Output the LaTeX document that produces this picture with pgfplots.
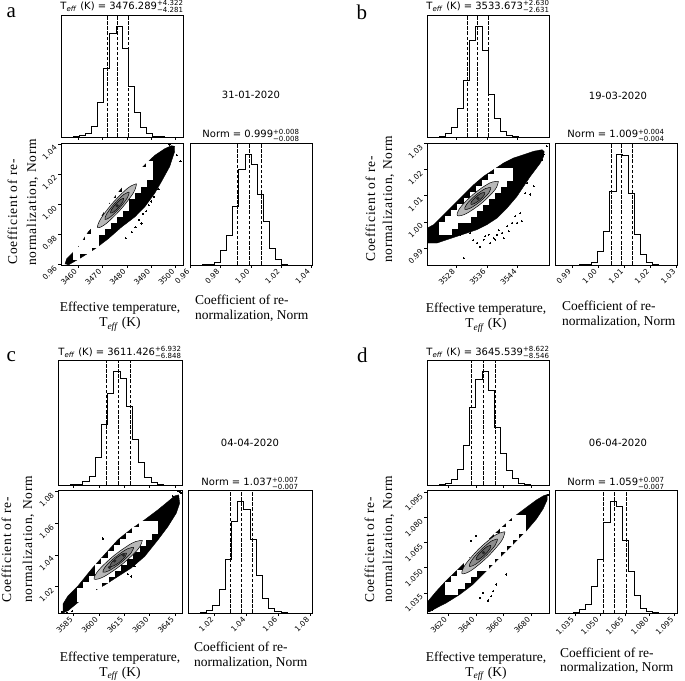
\documentclass[border=0pt]{standalone}
\usepackage{fontspec}
\setmainfont{Liberation Serif}
\newfontfamily\dejavu{DejaVu Sans}
\usepackage{amsmath}
\usepackage{pgfplots}
\pgfplotsset{compat=1.18}
\definecolor{cgA}{gray}{0.72}
\definecolor{cgB}{gray}{0.55}
\definecolor{cgC}{gray}{0.38}
\definecolor{cgD}{gray}{0.15}
\newcommand\tickfont{\dejavu\fontsize{7.5}{9}\selectfont}
\newcommand\ttl{\dejavu\fontsize{10}{12}\selectfont}
\newcommand\lbl{\fontsize{13.5}{16}\selectfont}
\newcommand\ylbl{\fontsize{13.5}{16}\selectfont\addfontfeature{LetterSpace=6}}
\newcommand\letterf{\fontsize{21}{24}\selectfont}
\newcommand\Teff{T\textsubscript{\textit{eff}}}
\pgfplotsset{
  every axis/.append style={scale only axis, anchor=south west,
    axis line style={line width=0.55pt}, tick style={line width=0.55pt, black},
    tick align=outside, major tick length=3pt, xtick pos=left, ytick pos=left,
    tick label style={font=\tickfont}, /pgf/number format/assume math mode=true,
    axis on top, clip mode=individual},
  cornhist/.style={ymin=0, ymax=1.1, ytick=\empty},
  rotx/.style={xticklabel style={rotate=45, anchor=east}},
  roty/.style={yticklabel style={rotate=45, anchor=east}},
  hstep/.style={const plot, black, line width=0.7pt},
  qline/.style={black, line width=0.8pt, dash pattern=on 3.5pt off 1.6pt},
  cloudst/.style={fill=black, draw=black, line width=0.4pt},
  outl/.style={only marks, mark=*, mark size=0.6pt, mark options={fill=black, draw=black, line width=0pt}},
  wbin/.style={only marks, mark=square*, mark size=3.05pt, mark options={fill=white, draw=white, line width=0.2pt}},
  ctr/.style={smooth, tension=0.55, draw=black, line width=0.5pt},
  core/.style={only marks, mark=*, mark size=1.5pt, mark options={fill=cgD, draw=cgD}},
}
\begin{document}
\begin{tikzpicture}
\useasboundingbox (0,0) rectangle (685pt,680pt);
% ================= PANEL a =================
\begin{axis}[cornhist, at={(61pt,543pt)}, width=122pt, height=122pt, xmin=3453, xmax=3503,
  xtick={3460,3470,3480,3490,3500}, xticklabels={}]
\addplot[hstep] coordinates {(3453,0) (3455.5,0) (3458,0.003) (3460.5,0.012) (3463,0.03) (3465.5,0.10) (3468,0.31) (3470.5,0.62) (3473,0.93) (3475.5,1.0) (3478,0.80) (3480.5,0.46) (3483,0.22) (3485.5,0.09) (3488,0.03) (3490.5,0.008) (3493,0.002) (3495.5,0) (3498,0) (3500.5,0) (3503,0)};
\addplot[qline] coordinates {(3472.008,0) (3472.008,1.1)};
\addplot[qline] coordinates {(3476.289,0) (3476.289,1.1)};
\addplot[qline] coordinates {(3480.611,0) (3480.611,1.1)};
\end{axis}
\begin{axis}[rotx, roty, at={(61pt,415pt)}, width=122pt, height=122pt, xmin=3453, xmax=3503, ymin=0.9596, ymax=1.0407,
  xtick={3460,3470,3480,3490,3500}, xticklabels={3460,3470,3480,3490,3500},
  ytick={0.96,0.98,1.00,1.02,1.04}, yticklabels={0.96,0.98,1.00,1.02,1.04}]
\addplot[cloudst] coordinates {(3454.65,0.96025) (3455.3,0.96366) (3460.1,0.97144) (3464.15,0.9815) (3468.25,0.98823) (3472.35,0.99934) (3477.8,1.01053) (3483.25,1.01945) (3487.35,1.02618) (3491.4,1.03243) (3495.5,1.03689) (3498.25,1.03891) (3499.6,1.03843) (3499.6,1.0351) (3497.55,1.02505) (3494.15,1.01499) (3491.4,1.00721) (3487.35,0.99828) (3483.25,0.99155) (3477.8,0.98482) (3472.35,0.97704) (3466.9,0.97031) (3461.45,0.96471) (3456.0,0.9596)};
\addplot[outl] coordinates {(3502.0,1.0285) (3497.5,1.0395) (3491.0,1.0050) (3490.0,1.0018) (3488.0,0.9953) (3486.5,0.9937) (3486.0,0.9872) (3483.5,0.9847) (3479.5,0.9774) (3489.0,0.9993) (3485.0,0.9896) (3482.0,0.9815) (3500.5,1.0326) (3493.0,1.0099)};
\addplot[wbin] coordinates {(3459.25,0.965685) (3459.25,0.96974) (3461.75,0.96974) (3461.75,0.9738) (3464.25,0.96974) (3464.25,0.9738) (3464.25,0.97785) (3466.75,0.9738) (3466.75,0.97785) (3466.75,0.98191) (3466.75,0.98596) (3469.25,0.98191) (3469.25,0.98596) (3469.25,0.99002) (3471.75,0.98596) (3471.75,0.99002) (3471.75,0.99407) (3471.75,0.99813) (3474.25,0.99002) (3474.25,0.99407) (3474.25,0.99813) (3474.25,1.00218) (3476.75,0.99407) (3476.75,0.99813) (3476.75,1.00218) (3476.75,1.00624) (3479.25,0.99813) (3479.25,1.00218) (3479.25,1.00624) (3479.25,1.01029) (3479.25,1.01435) (3481.75,1.00624) (3481.75,1.01029) (3481.75,1.01435) (3481.75,1.0184) (3484.25,1.01029) (3484.25,1.01435) (3484.25,1.0184) (3484.25,1.02246) (3486.75,1.01435) (3486.75,1.0184) (3486.75,1.02246) (3489.25,1.0184) (3489.25,1.02246) (3489.25,1.02651)};
\end{axis}
\begin{axis}[hide axis, at={(61pt,415pt)}, width=122pt, height=122pt, xmin=3453, xmax=3503, ymin=0.9596, ymax=1.0407]
\addplot[ctr, fill=cgA] coordinates {(3483.95,1.01358) (3480.51,1.0109) (3474.43,1.00126) (3469.27,0.99029) (3468.05,0.98442) (3471.49,0.9871) (3477.57,0.99674) (3482.73,1.00771) (3483.95,1.01358)};
\addplot[ctr, fill=cgB] coordinates {(3480.97,1.00811) (3478.77,1.00651) (3474.95,1.00051) (3471.74,0.99362) (3471.03,0.98989) (3473.23,0.99149) (3477.05,0.9975) (3480.26,1.00438) (3480.97,1.00811)};
\addplot[ctr, fill=cgC] coordinates {(3478.65,1.00386) (3477.40,1.00312) (3475.33,0.99997) (3473.65,0.99625) (3473.35,0.99414) (3474.60,0.99488) (3476.67,0.99803) (3478.35,1.00175) (3478.65,1.00386)};
\addplot[core] coordinates {(3476.0,0.999)};
\end{axis}
\begin{axis}[cornhist, rotx, at={(190pt,415pt)}, width=122pt, height=122pt, xmin=0.9596, xmax=1.0407,
  xtick={0.96,0.98,1.00,1.02,1.04}, xticklabels={0.96,0.98,1.00,1.02,1.04}]
\addplot[hstep] coordinates {(0.9596,0) (0.963655,0) (0.96771,0.003) (0.971765,0.01) (0.97582,0.02) (0.979875,0.13) (0.98393,0.27) (0.987985,0.53) (0.99204,0.86) (0.996095,1.0) (1.00015,0.91) (1.004205,0.64) (1.00826,0.39) (1.012315,0.15) (1.01637,0.055) (1.020425,0.01) (1.02448,0) (1.028535,0) (1.03259,0) (1.036645,0) (1.0407,0)};
\addplot[qline] coordinates {(0.991,0) (0.991,1.1)};
\addplot[qline] coordinates {(0.999,0) (0.999,1.1)};
\addplot[qline] coordinates {(1.007,0) (1.007,1.1)};
\end{axis}
% ================= PANEL b =================
\begin{axis}[cornhist, at={(427pt,543pt)}, width=122pt, height=122pt, xmin=3520.5, xmax=3552.1,
  xtick={3528,3536,3544}, xticklabels={}]
\addplot[hstep] coordinates {(3520.5,0) (3522.08,0) (3523.66,0.006) (3525.24,0.03) (3526.82,0.09) (3528.4,0.26) (3529.98,0.51) (3531.56,0.87) (3533.14,1.0) (3534.72,0.78) (3536.3,0.38) (3537.88,0.17) (3539.46,0.05) (3541.04,0.015) (3542.62,0.005) (3544.2,0) (3545.78,0) (3547.36,0) (3548.94,0) (3550.52,0) (3552.1,0)};
\addplot[qline] coordinates {(3531.042,0) (3531.042,1.1)};
\addplot[qline] coordinates {(3533.673,0) (3533.673,1.1)};
\addplot[qline] coordinates {(3536.303,0) (3536.303,1.1)};
\end{axis}
\begin{axis}[rotx, roty, at={(427pt,415pt)}, width=122pt, height=122pt, xmin=3520.5, xmax=3552.1, ymin=0.9835, ymax=1.0302,
  xtick={3528,3536,3544}, xticklabels={3528,3536,3544},
  ytick={0.99,1.00,1.01,1.02,1.03}, yticklabels={0.99,1.00,1.01,1.02,1.03}]
\addplot[cloudst] coordinates {(3519.5,0.99676) (3522.24,0.99896) (3524.83,1.00279) (3527.42,1.00662) (3530.01,1.01045) (3532.60,1.01423) (3535.16,1.01745) (3537.75,1.01997) (3540.34,1.02254) (3542.94,1.02446) (3545.53,1.02572) (3548.12,1.02702) (3550.30,1.02763) (3550.84,1.02693) (3550.71,1.02511) (3549.86,1.02254) (3547.27,1.01745) (3543.82,1.00979) (3541.23,1.00531) (3538.64,1.00148) (3536.05,0.99896) (3533.46,0.99704) (3530.86,0.99574) (3528.27,0.99447) (3525.68,0.99321) (3523.09,0.99191) (3519.5,0.99191)};
\addplot[outl] coordinates {(3533.46,0.99191) (3535.16,0.99321) (3536.46,0.99513) (3537.75,0.99382) (3539.06,0.99676) (3539.93,0.99574) (3541.23,0.9983) (3542.53,0.99957) (3543.38,1.00213) (3544.67,1.00339) (3545.97,1.01105) (3547.27,1.01045) (3548.12,1.01362) (3546.41,1.01488) (3549.0,1.02254) (3550.71,1.02572) (3550.3,1.0238) (3530.01,0.98616) (3531.72,0.99574) (3529.13,0.99513) (3538.2,0.99321) (3536.9,0.99191) (3541.64,0.99639) (3538.64,0.99513) (3535.6,0.99447) (3540.34,0.99382) (3543.82,0.99957) (3545.1,1.00022) (3551.5,1.0290) (3532.5,0.9930) (3534.3,0.9905)};
\addplot[wbin] coordinates {(3524.45,0.99641) (3524.45,0.99872) (3526.03,0.99641) (3526.03,0.99872) (3526.03,1.00103) (3527.61,0.99872) (3527.61,1.00103) (3527.61,1.00334) (3529.19,1.00103) (3529.19,1.00334) (3529.19,1.00565) (3530.77,1.00103) (3530.77,1.00334) (3530.77,1.00565) (3530.77,1.00796) (3532.35,1.00334) (3532.35,1.00565) (3532.35,1.00796) (3532.35,1.01027) (3533.93,1.00565) (3533.93,1.00796) (3533.93,1.01027) (3533.93,1.01258) (3535.51,1.00796) (3535.51,1.01027) (3535.51,1.01258) (3535.51,1.01489) (3537.09,1.01027) (3537.09,1.01258) (3537.09,1.01489) (3537.09,1.0172) (3538.67,1.01258) (3538.67,1.01489) (3538.67,1.0172) (3538.67,1.01951) (3540.25,1.01489) (3540.25,1.0172) (3540.25,1.01951) (3541.83,1.0172) (3541.83,1.01951)};
\end{axis}
\begin{axis}[hide axis, at={(427pt,415pt)}, width=122pt, height=122pt, xmin=3520.5, xmax=3552.1, ymin=0.9835, ymax=1.0302]
\addplot[ctr, fill=cgA] coordinates {(3538.995,1.01553) (3536.717,1.01487) (3532.654,1.01077) (3529.186,1.00563) (3528.345,1.00247) (3530.623,1.00313) (3534.686,1.00723) (3538.154,1.01237) (3538.995,1.01553)};
\addplot[ctr, fill=cgB] coordinates {(3537.06,1.01316) (3535.61,1.01274) (3533.02,1.01013) (3530.81,1.00686) (3530.28,1.00484) (3531.73,1.00526) (3534.32,1.00787) (3536.53,1.01114) (3537.06,1.01316)};
\addplot[ctr, fill=cgC] coordinates {(3535.49,1.01123) (3534.67,1.01108) (3533.26,1.00971) (3532.10,1.00793) (3531.85,1.00677) (3532.67,1.00693) (3534.08,1.00829) (3535.24,1.01007) (3535.49,1.01123)};
\addplot[core] coordinates {(3533.67,1.009)};
\end{axis}
\begin{axis}[cornhist, rotx, at={(555pt,415pt)}, width=122pt, height=122pt, xmin=0.9835, xmax=1.0302,
  xtick={0.99,1.00,1.01,1.02,1.03}, xticklabels={0.99,1.00,1.01,1.02,1.03}]
\addplot[hstep] coordinates {(0.9837,0) (0.98601,0) (0.98832,0) (0.99063,0) (0.99294,0.003) (0.99525,0.005) (0.99756,0.025) (0.99987,0.12) (1.00218,0.30) (1.00449,0.66) (1.0068,1.0) (1.00911,0.99) (1.01142,0.65) (1.01373,0.28) (1.01604,0.10) (1.01835,0.025) (1.02066,0.005) (1.02297,0) (1.02528,0) (1.02759,0) (1.0299,0)};
\addplot[qline] coordinates {(1.005,0) (1.005,1.1)};
\addplot[qline] coordinates {(1.009,0) (1.009,1.1)};
\addplot[qline] coordinates {(1.013,0) (1.013,1.1)};
\end{axis}
% ================= PANEL c =================
\begin{axis}[cornhist, at={(58pt,195pt)}, width=124pt, height=125pt, xmin=3575.7, xmax=3649.1,
  xtick={3585,3600,3615,3630,3645}, xticklabels={}]
\addplot[hstep] coordinates {(3575.7,0) (3579.37,0) (3583.04,0.002) (3586.71,0.008) (3590.38,0.03) (3594.05,0.08) (3597.72,0.24) (3601.39,0.53) (3605.06,0.81) (3608.73,1.0) (3612.4,0.94) (3616.07,0.69) (3619.74,0.40) (3623.41,0.20) (3627.08,0.07) (3630.75,0.02) (3634.42,0.006) (3638.09,0) (3641.76,0) (3645.43,0) (3649.1,0)};
\addplot[qline] coordinates {(3604.578,0) (3604.578,1.1)};
\addplot[qline] coordinates {(3611.426,0) (3611.426,1.1)};
\addplot[qline] coordinates {(3618.358,0) (3618.358,1.1)};
\end{axis}
\begin{axis}[rotx, roty, at={(58pt,67pt)}, width=124pt, height=123pt, xmin=3575.7, xmax=3649.1, ymin=1.0033, ymax=1.0811,
  xtick={3585,3600,3615,3630,3645}, xticklabels={3585,3600,3615,3630,3645},
  ytick={1.02,1.04,1.06,1.08}, yticklabels={1.02,1.04,1.06,1.08}]
\addplot[cloudst] coordinates {(3578.64,1.00898) (3581.65,1.01419) (3587.52,1.02042) (3595.44,1.03092) (3603.30,1.04033) (3611.23,1.04975) (3619.08,1.05644) (3627.01,1.06227) (3634.86,1.06857) (3640.81,1.07379) (3644.77,1.07737) (3647.12,1.07799) (3647.70,1.0727) (3645.72,1.06647) (3640.81,1.05807) (3634.86,1.04959) (3627.01,1.03909) (3619.08,1.03177) (3611.23,1.02641) (3603.30,1.02096) (3595.44,1.01637) (3587.52,1.00999) (3581.65,1.00478) (3578.64,1.0033)};
\addplot[outl] coordinates {(3643.6,1.0773) (3646.5,1.0742) (3602.3,1.0504) (3617.0,1.0279) (3619.0,1.0264) (3578.0,1.0040) (3581.0,1.0035) (3584.0,1.0045) (3648.0,1.0795) (3621.0,1.0330) (3605.0,1.0410) (3648.6,1.0790) (3647.0,1.0805)};
\addplot[wbin, mark size=3.1pt] coordinates {(3588.55,1.01303) (3588.55,1.01692) (3592.22,1.01303) (3592.22,1.01692) (3592.22,1.02081) (3595.89,1.01692) (3595.89,1.02081) (3595.89,1.0247) (3599.56,1.02081) (3599.56,1.0247) (3599.56,1.02859) (3599.56,1.03248) (3603.23,1.0247) (3603.23,1.02859) (3603.23,1.03248) (3603.23,1.03637) (3606.90,1.02859) (3606.90,1.03248) (3606.90,1.03637) (3606.90,1.04026) (3610.57,1.03248) (3610.57,1.03637) (3610.57,1.04026) (3610.57,1.04415) (3614.24,1.03637) (3614.24,1.04026) (3614.24,1.04415) (3614.24,1.04804) (3617.91,1.04026) (3617.91,1.04415) (3617.91,1.04804) (3617.91,1.05193) (3621.58,1.04415) (3621.58,1.04804) (3621.58,1.05193) (3621.58,1.05582) (3625.25,1.04804) (3625.25,1.05193) (3625.25,1.05582) (3625.25,1.05971) (3628.92,1.05193) (3628.92,1.05582) (3628.92,1.05971) (3632.59,1.05582) (3632.59,1.05971)};
\end{axis}
\begin{axis}[hide axis, at={(58pt,67pt)}, width=124pt, height=123pt, xmin=3575.7, xmax=3649.1, ymin=1.0033, ymax=1.0811]
\addplot[ctr, fill=cgA] coordinates {(3625.66,1.04924) (3619.92,1.04771) (3609.18,1.0399) (3599.75,1.0304) (3597.14,1.02476) (3602.88,1.02629) (3613.62,1.0341) (3623.05,1.0436) (3625.66,1.04924)};
\addplot[ctr, fill=cgB] coordinates {(3620.53,1.04483) (3616.81,1.04391) (3609.92,1.03894) (3603.90,1.03283) (3602.27,1.02917) (3605.99,1.03009) (3612.88,1.03507) (3618.90,1.04117) (3620.53,1.04483)};
\addplot[ctr, fill=cgC] coordinates {(3616.25,1.04116) (3614.11,1.04088) (3610.38,1.03833) (3607.25,1.035) (3606.55,1.03284) (3608.69,1.03312) (3612.42,1.03567) (3615.55,1.039) (3616.25,1.04116)};
\addplot[core] coordinates {(3609.2,1.0363) (3614.5,1.0399) (3606.2,1.0321)};
\end{axis}
\begin{axis}[cornhist, rotx, at={(188pt,67pt)}, width=124pt, height=123pt, xmin=1.0033, xmax=1.0811,
  xtick={1.02,1.04,1.06,1.08}, xticklabels={1.02,1.04,1.06,1.08}]
\addplot[hstep] coordinates {(1.0033,0) (1.00719,0) (1.01108,0.006) (1.01497,0.02) (1.01886,0.065) (1.02275,0.21) (1.02664,0.48) (1.03053,0.82) (1.03442,1.0) (1.03831,0.93) (1.0422,0.66) (1.04609,0.34) (1.04998,0.13) (1.05387,0.045) (1.05776,0.012) (1.06165,0.003) (1.06554,0) (1.06943,0) (1.07332,0) (1.07721,0) (1.0811,0)};
\addplot[qline] coordinates {(1.030,0) (1.030,1.1)};
\addplot[qline] coordinates {(1.037,0) (1.037,1.1)};
\addplot[qline] coordinates {(1.044,0) (1.044,1.1)};
\end{axis}
% ================= PANEL d =================
\begin{axis}[cornhist, at={(427pt,195pt)}, width=122pt, height=125pt, xmin=3604.9, xmax=3692.7,
  xtick={3620,3640,3660,3680}, xticklabels={}]
\addplot[hstep] coordinates {(3604.9,0) (3609.29,0) (3613.68,0.004) (3618.07,0.015) (3622.46,0.05) (3626.85,0.14) (3631.24,0.35) (3635.63,0.68) (3640.02,0.93) (3644.41,1.0) (3648.8,0.83) (3653.19,0.51) (3657.58,0.28) (3661.97,0.13) (3666.36,0.055) (3670.75,0.018) (3675.14,0.005) (3679.53,0) (3683.92,0) (3688.31,0) (3692.7,0)};
\addplot[qline] coordinates {(3636.993,0) (3636.993,1.1)};
\addplot[qline] coordinates {(3645.539,0) (3645.539,1.1)};
\addplot[qline] coordinates {(3654.161,0) (3654.161,1.1)};
\end{axis}
\begin{axis}[rotx, roty, at={(427pt,67pt)}, width=122pt, height=123pt, xmin=3604.9, xmax=3692.7, ymin=1.023, ymax=1.0964,
  xtick={3620,3640,3660,3680}, xticklabels={3620,3640,3660,3680},
  ytick={1.035,1.050,1.065,1.080,1.095}, yticklabels={1.035,1.050,1.065,1.080,1.095}]
\addplot[cloudst] coordinates {(3605.16,1.02601) (3605.60,1.02997) (3611.66,1.03599) (3618.77,1.04238) (3628.43,1.05001) (3638.00,1.05801) (3647.57,1.06557) (3657.23,1.07299) (3666.80,1.08003) (3676.37,1.08598) (3683.57,1.09038) (3688.84,1.09302) (3691.30,1.09361) (3691.30,1.09038) (3688.40,1.08502) (3683.57,1.079) (3676.37,1.07203) (3666.80,1.06403) (3657.23,1.05603) (3647.57,1.04803) (3638.00,1.04003) (3628.43,1.03401) (3618.77,1.02902) (3611.66,1.02601) (3606.30,1.02359)};
\addplot[outl] coordinates {(3642.83,1.03203) (3648.80,1.03041) (3652.40,1.03599) (3645.20,1.03497) (3654.77,1.04003) (3640.37,1.06902) (3636.77,1.06601) (3692.0,1.09361) (3661.97,1.04597) (3651.17,1.03298) (3606.0,1.0240) (3609.0,1.0250)};
\addplot[wbin] coordinates {(3620.27,1.03585) (3620.27,1.03952) (3624.66,1.03585) (3624.66,1.03952) (3624.66,1.04319) (3629.05,1.03952) (3629.05,1.04319) (3629.05,1.04686) (3633.44,1.04319) (3633.44,1.04686) (3633.44,1.05053) (3633.44,1.0542) (3637.83,1.04686) (3637.83,1.05053) (3637.83,1.0542) (3637.83,1.05787) (3642.22,1.05053) (3642.22,1.0542) (3642.22,1.05787) (3642.22,1.06154) (3646.61,1.05053) (3646.61,1.0542) (3646.61,1.05787) (3646.61,1.06154) (3646.61,1.06521) (3651.0,1.0542) (3651.0,1.05787) (3651.0,1.06154) (3651.0,1.06521) (3655.39,1.05787) (3655.39,1.06154) (3655.39,1.06521) (3655.39,1.06888) (3659.78,1.06154) (3659.78,1.06521) (3659.78,1.06888) (3659.78,1.07255) (3664.17,1.06521) (3664.17,1.06888) (3664.17,1.07255) (3664.17,1.07622) (3668.56,1.06888) (3668.56,1.07255) (3668.56,1.07622) (3668.56,1.07989) (3672.95,1.07255) (3672.95,1.07622) (3672.95,1.07989)};
\end{axis}
\begin{axis}[hide axis, at={(427pt,67pt)}, width=122pt, height=123pt, xmin=3604.9, xmax=3692.7, ymin=1.023, ymax=1.0964]
\addplot[ctr, fill=cgA] coordinates {(3661.01,1.07149) (3654.41,1.06963) (3642.61,1.06153) (3632.53,1.05196) (3630.07,1.04651) (3636.67,1.04837) (3648.47,1.05647) (3658.55,1.06604) (3661.01,1.07149)};
\addplot[ctr, fill=cgB] coordinates {(3655.65,1.06716) (3651.31,1.06596) (3643.59,1.06069) (3637.01,1.05443) (3635.44,1.05084) (3639.78,1.05204) (3647.49,1.05731) (3654.07,1.06357) (3655.65,1.06716)};
\addplot[ctr, fill=cgC] coordinates {(3650.91,1.06333) (3648.47,1.06281) (3644.32,1.06006) (3640.88,1.05668) (3640.17,1.05467) (3642.61,1.05519) (3646.76,1.05794) (3650.20,1.06132) (3650.91,1.06333)};
\addplot[core] coordinates {(3645.54,1.059)};
\end{axis}
\begin{axis}[cornhist, rotx, at={(555pt,67pt)}, width=122pt, height=123pt, xmin=1.023, xmax=1.0964,
  xtick={1.035,1.050,1.065,1.080,1.095}, xticklabels={1.035,1.050,1.065,1.080,1.095}]
\addplot[hstep] coordinates {(1.023,0) (1.02667,0) (1.03034,0) (1.03401,0.01) (1.03768,0.03) (1.04135,0.075) (1.04502,0.24) (1.04869,0.48) (1.05236,0.81) (1.05603,1.0) (1.0597,0.95) (1.06337,0.65) (1.06704,0.37) (1.07071,0.155) (1.07438,0.045) (1.07805,0.015) (1.08172,0.004) (1.08539,0) (1.08906,0) (1.09273,0) (1.0964,0)};
\addplot[qline] coordinates {(1.052,0) (1.052,1.1)};
\addplot[qline] coordinates {(1.059,0) (1.059,1.1)};
\addplot[qline] coordinates {(1.066,0) (1.066,1.1)};
\end{axis}
% ================= TEXT =================
\begin{scope}[every node/.style={inner sep=0pt}]
\node[anchor=base west] at (6.5pt,662pt) {\letterf a};
\node[anchor=base west] at (356.5pt,660pt) {\letterf b};
\node[anchor=base west] at (6.5pt,318pt) {\letterf c};
\node[anchor=base west] at (357pt,317pt) {\letterf d};
\node[anchor=base] at (122pt,670.5pt) {\ttl \Teff{} (K) = 3476.289${}^{\text{+4.322}}_{\text{−4.281}}$};
\node[anchor=base] at (251pt,542pt) {\ttl Norm = 0.999${}^{\text{+0.008}}_{\text{−0.008}}$};
\node[anchor=base] at (251pt,581pt) {\ttl 31-01-2020};
\node[anchor=base] at (488pt,670.5pt) {\ttl \Teff{} (K) = 3533.673${}^{\text{+2.630}}_{\text{−2.631}}$};
\node[anchor=base] at (616pt,542pt) {\ttl Norm = 1.009${}^{\text{+0.004}}_{\text{−0.004}}$};
\node[anchor=base] at (618pt,580pt) {\ttl 19-03-2020};
\node[anchor=base] at (120pt,324.5pt) {\ttl \Teff{} (K) = 3611.426${}^{\text{+6.932}}_{\text{−6.848}}$};
\node[anchor=base] at (250pt,194pt) {\ttl Norm = 1.037${}^{\text{+0.007}}_{\text{−0.007}}$};
\node[anchor=base] at (250pt,233pt) {\ttl 04-04-2020};
\node[anchor=base] at (488pt,324.5pt) {\ttl \Teff{} (K) = 3645.539${}^{\text{+8.622}}_{\text{−8.546}}$};
\node[anchor=base] at (616pt,194pt) {\ttl Norm = 1.059${}^{\text{+0.007}}_{\text{−0.007}}$};
\node[anchor=base] at (618pt,233pt) {\ttl 06-04-2020};
\node[rotate=90, anchor=base west] at (17pt,415pt) {\ylbl Coefficient of re-};
\node[rotate=90, anchor=base west] at (36pt,414pt) {\ylbl normalization, Norm};
\node[rotate=90, anchor=base west] at (375pt,418pt) {\ylbl Coefficient of re-};
\node[rotate=90, anchor=base west] at (392pt,417pt) {\ylbl normalization, Norm};
\node[rotate=90, anchor=base west] at (11pt,77pt) {\ylbl Coefficient of re-};
\node[rotate=90, anchor=base west] at (32pt,77pt) {\ylbl normalization, Norm};
\node[rotate=90, anchor=base west] at (374pt,77pt) {\ylbl Coefficient of re-};
\node[rotate=90, anchor=base west] at (392pt,77pt) {\ylbl normalization, Norm};
\node[anchor=base] at (120pt,368pt) {\lbl Effective temperature,};
\node[anchor=base] at (120pt,353pt) {\lbl \Teff{} (K)};
\node[anchor=base west] at (195pt,375pt) {\lbl Coefficient of re-};
\node[anchor=base west] at (195pt,360pt) {\lbl normalization, Norm};
\node[anchor=base] at (486pt,367pt) {\lbl Effective temperature,};
\node[anchor=base] at (486pt,352pt) {\lbl \Teff{} (K)};
\node[anchor=base west] at (562pt,369pt) {\lbl Coefficient of re-};
\node[anchor=base west] at (562pt,354pt) {\lbl normalization, Norm};
\node[anchor=base] at (120pt,19pt) {\lbl Effective temperature,};
\node[anchor=base] at (120pt,4pt) {\lbl \Teff{} (K)};
\node[anchor=base west] at (194pt,29pt) {\lbl Coefficient of re-};
\node[anchor=base west] at (194pt,14pt) {\lbl normalization, Norm};
\node[anchor=base] at (486pt,19pt) {\lbl Effective temperature,};
\node[anchor=base] at (486pt,4pt) {\lbl \Teff{} (K)};
\node[anchor=base west] at (560pt,23pt) {\lbl Coefficient of re-};
\node[anchor=base west] at (560pt,9pt) {\lbl normalization, Norm};
\end{scope}
\end{tikzpicture}
\end{document}
